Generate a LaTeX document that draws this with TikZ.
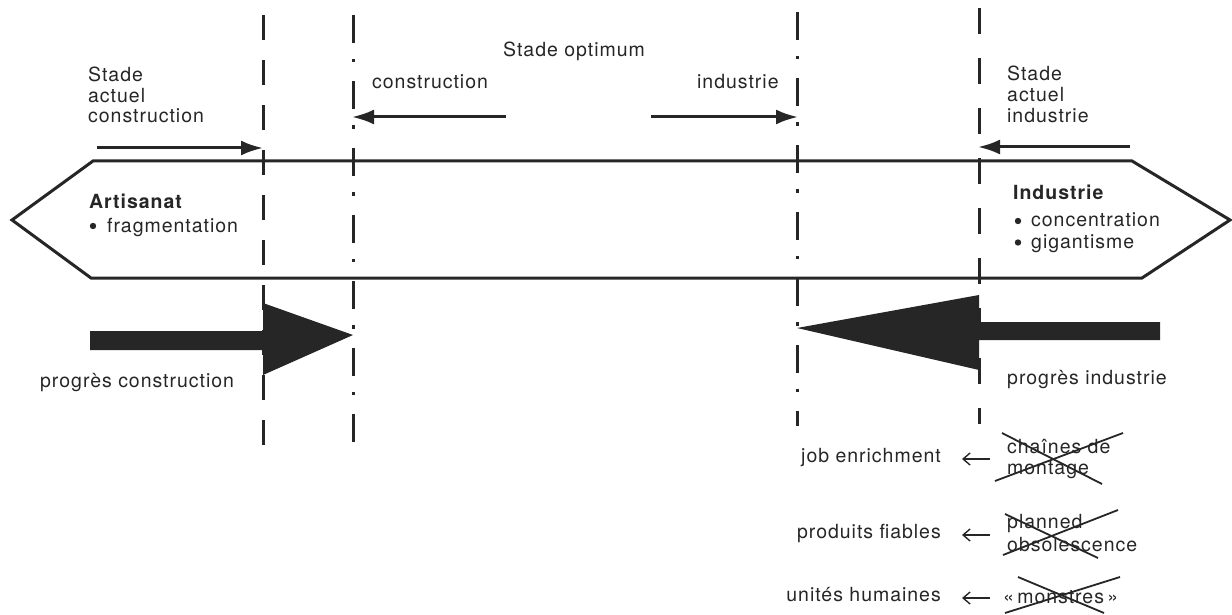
\documentclass[tikz,border=0pt]{standalone}
\usepackage{fontspec}
\setmainfont{TeX Gyre Heros}[LetterSpace=5]
\usetikzlibrary{arrows.meta}
\begin{document}
\begin{tikzpicture}[x=1pt,y=-1pt,
  lbl/.style={font=\fontsize{19.5}{21}\selectfont, inner sep=0pt, anchor=base west, text=black!85},
  lblr/.style={lbl, anchor=base east},
  blbl/.style={lbl, font=\fontsize{19.5}{21}\selectfont\bfseries},
  bulletdot/.style={fill=black!85, draw=none},
  vdash/.style={line width=3pt, black!85, dash pattern=on 25pt off 20pt},
  vdashb/.style={line width=3pt, black!85, dash pattern=on 26pt off 24pt},
  vdot/.style={line width=3pt, black!85, dash pattern=on 28pt off 16pt on 3.5pt off 19pt},
  band/.style={line width=3pt, black!85, line join=miter},
  toparrow/.style={line width=3pt, black!85, -{Latex[length=22pt,width=15pt]}},
  smallarrow/.style={line width=1.4pt, black!85, -{Straight Barb[length=7pt,width=12pt]}},
  bigarrow/.style={fill=black!85, draw=none},
  cross/.style={line width=1.8pt, black!85}
]
\useasboundingbox (0,0) rectangle (1232,615);

% vertical reference lines
\coordinate (A1) at (263,15);  \coordinate (A2) at (263,453);
\coordinate (B1) at (353,15);  \coordinate (B2) at (353,449);
\coordinate (C1) at (797,12);  \coordinate (C2) at (797,426);
\coordinate (D1) at (979,8);   \coordinate (D2) at (979,424);
\draw[vdash] (A1) -- (A2);
\draw[vdot] (B1) -- (B2);
\draw[vdot] (C1) -- (C2);
\draw[vdashb] (D1) -- (D2);

% band
\draw[band] (93,161) -- (1132,161) -- (1230,220) -- (1142,278) -- (91,278) -- (12,220) -- cycle;

% big arrows
\fill[bigarrow] (90,331) -- (263,331) -- (263,303) -- (353,335) -- (263,375) -- (263,350) -- (90,350) -- cycle;
\fill[bigarrow] (1160,322) -- (979,322) -- (979,295) -- (797,328) -- (979,370) -- (979,340) -- (1160,340) -- cycle;

% top arrows
\coordinate (ta1s) at (97,148);  \coordinate (ta1e) at (263,148);
\coordinate (ta2s) at (506,117); \coordinate (ta2e) at (352,117);
\coordinate (ta3s) at (651,117); \coordinate (ta3e) at (798,117);
\coordinate (ta4s) at (1130,147);\coordinate (ta4e) at (978,147);
\draw[toparrow] (ta1s) -- (ta1e);
\draw[toparrow] (ta2s) -- (ta2e);
\draw[toparrow] (ta3s) -- (ta3e);
\draw[toparrow] (ta4s) -- (ta4e);

% texts
\node[lbl] (sac1) at (88,82) {Stade};
\node[lbl] (sac2) at (88,102.5) {actuel};
\node[lbl] (sac3) at (88,123) {construction};
\node[lbl] (sai1) at (1007,81) {Stade};
\node[lbl] (sai2) at (1007,102) {actuel};
\node[lbl] (sai3) at (1007,123) {industrie};
\node[lbl] (opt) at (503,57) {Stade optimum};
\node[lbl] (optc) at (372,89) {construction};
\node[lbl] (opti) at (697,89) {industrie};

\node[blbl] (art) at (89,208) {Artisanat};
\node[lbl] (frag) at (107,232) {fragmentation};
\node[blbl] (ind) at (1013,199) {Industrie};
\node[lbl] (conc) at (1031,226.5) {concentration};
\node[lbl] (gig) at (1031,248) {gigantisme};
\fill[bulletdot] (93,226) circle (3.2);
\fill[bulletdot] (1018,221) circle (3.2);
\fill[bulletdot] (1018,242.5) circle (3.2);

\node[lbl] (pc) at (40,387) {progrès construction};
\node[lbl] (pi) at (1007,384) {progrès industrie};

\node[lblr] (job) at (941,462) {job enrichment};
\node[lblr] (prod) at (941,538) {produits fiables};
\node[lblr] (unit) at (941,601) {unités humaines};

\node[lbl] (ch1) at (1007,453) {chaînes de};
\node[lbl] (ch2) at (1007,474) {montage};
\node[lbl] (pl1) at (1007,528) {planned};
\node[lbl] (pl2) at (1007,551) {obsolescence};
\node[lbl] (mon) at (1003,603) {«\,monstres\,»};

% small arrows
\draw[smallarrow] (990,459) -- (962,459);
\draw[smallarrow] (990,535) -- (962,535);
\draw[smallarrow] (990,598) -- (962,598);

% crossings
\draw[cross] (1002,433) -- (1102,484);
\draw[cross] (1123,433) -- (995,481);
\draw[cross] (1005,514) -- (1098,558);
\draw[cross] (1003,555) -- (1118,510);
\draw[cross] (1018,577) -- (1104,613);
\draw[cross] (1005,613) -- (1120,577);
\end{tikzpicture}
\end{document}
